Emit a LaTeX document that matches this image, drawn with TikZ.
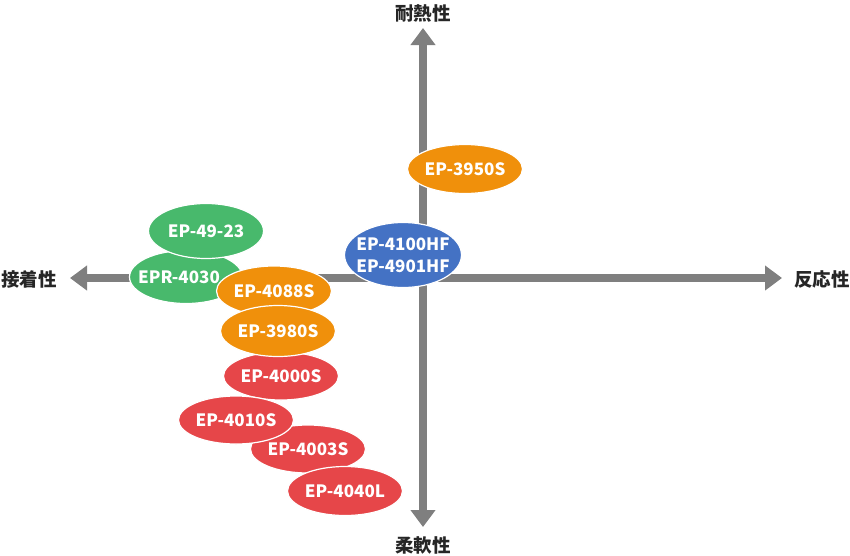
\documentclass[tikz,border=0pt]{standalone}
\usepackage{fontspec}
\setmainfont{Noto Sans CJK JP}
\usepackage{tikz}
\usetikzlibrary{arrows.meta, positioning, shapes.geometric}

\definecolor{axisgray}{HTML}{7F7F7F}
\definecolor{epgreen}{HTML}{48B96C}
\definecolor{eporange}{HTML}{F0900B}
\definecolor{epblue}{HTML}{4472C4}
\definecolor{epred}{HTML}{E64649}

\begin{document}
\begin{tikzpicture}[
        x=1pt, y=-1pt,
        axis/.style={line width=8pt, color=axisgray, {Triangle[width=24pt, length=17pt]}-{Triangle[width=24pt, length=17pt]}},
        axislabel/.style={font=\fontsize{18.5}{20}\selectfont\bfseries, text=black!85, inner sep=0pt},
        resin/.style={ellipse, draw=white, line width=1.2pt, minimum width=115pt, minimum height=50pt, inner xsep=-14pt, inner ysep=-6pt, align=center, text=white, font=\fontsize{17}{22}\selectfont\bfseries}
    ]
        \useasboundingbox (0,0) rectangle (850,555);

        % Axes
        \coordinate (o) at (423,278);
        \coordinate (tipl) at (70,278);
        \coordinate (tipr) at (782,278);
        \coordinate (tipt) at (423,28);
        \coordinate (tipb) at (423,527);
        \draw[axis] (tipl) -- (tipr);
        \draw[axis] (tipt) -- (tipb);

        \node[axislabel] (heat) at (423,13) {耐熱性};
        \node[axislabel] (flex) at (423,545) {柔軟性};
        \node[axislabel] (adh) at (29,279) {接着性};
        \node[axislabel] (react) at (822,279) {反応性};

        % Left group
        \node[resin, fill=epgreen, minimum width=113pt, minimum height=53pt] (epr4030) at (186,277) {EPR-4030\hspace{14pt}};
        \node[resin, fill=epgreen, minimum width=115pt, minimum height=55pt] (ep4923) at (206,231) {EP-49-23};
        \node[resin, fill=eporange] (ep4088s) at (274,291) {EP-4088S};
        \node[resin, fill=epred, minimum height=48pt] (ep4000s) at (281,376) {EP-4000S};
        \node[resin, fill=eporange, minimum height=51pt] (ep3980s) at (278,331) {EP-3980S};
        \node[resin, fill=epred, minimum height=48pt] (ep4003s) at (308,449) {EP-4003S};
        \node[resin, fill=epred, minimum height=48pt] (ep4010s) at (236,420) {EP-4010S};
        \node[resin, fill=epred, minimum height=49pt] (ep4040l) at (345,491) {EP-4040L};

        % Center
        \node[resin, fill=eporange, minimum height=49pt] (ep3950s) at (465,169) {EP-3950S};
        \node[resin, fill=epblue, minimum width=117pt, minimum height=65pt] (ep4100hf) at (403,255) {EP-4100HF\\EP-4901HF};

    \end{tikzpicture}
\end{document}
